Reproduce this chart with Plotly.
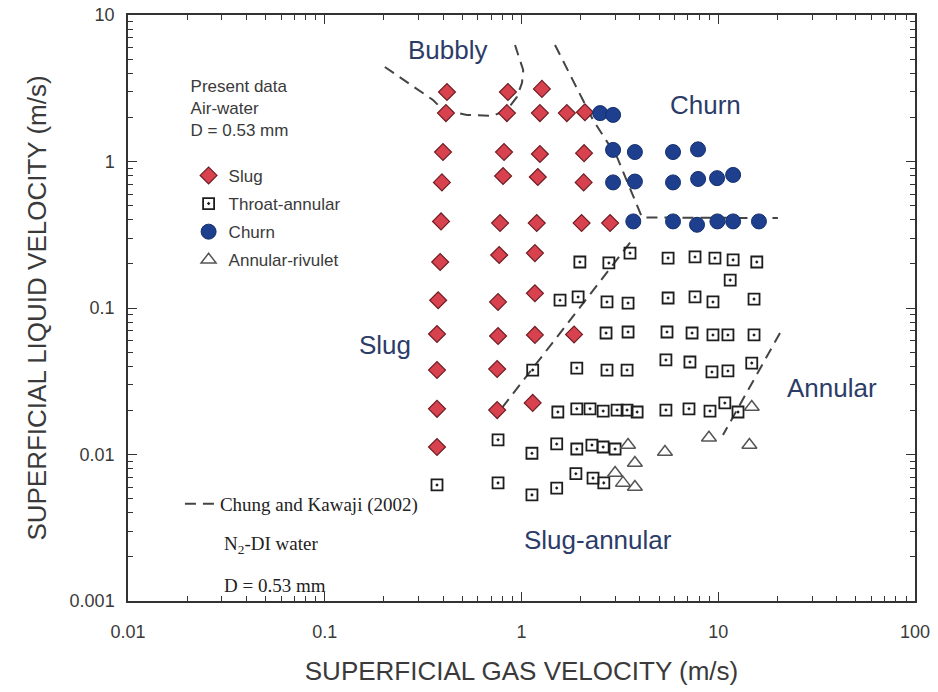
import math
import plotly.graph_objects as go

# ---------------- data ----------------
slug_x = [0.418, 0.413, 0.399, 0.394, 0.390, 0.386, 0.377, 0.372, 0.372, 0.372, 0.372,
          0.853, 0.843, 0.815, 0.806, 0.778, 0.770, 0.760, 0.760, 0.752, 0.752,
          1.27, 1.24, 1.24, 1.21, 1.195, 1.17, 1.17, 1.17, 1.14,
          1.70,
          2.10, 2.08, 2.07, 2.02, 1.85,
          2.82]
slug_y = [2.98, 2.14, 1.16, 0.72, 0.39, 0.206, 0.113, 0.0665, 0.0377, 0.0205, 0.01125,
          2.98, 2.14, 1.16, 0.796, 0.38, 0.230, 0.110, 0.0644, 0.0383, 0.0201,
          3.13, 2.14, 1.125, 0.784, 0.38, 0.237, 0.126, 0.0655, 0.0225,
          2.14,
          2.17, 1.14, 0.72, 0.38, 0.066,
          0.38]

throat_x = [1.98, 2.78, 3.56, 5.56, 7.62, 9.62, 11.9, 15.7, 11.5,
            1.57, 1.94, 2.72, 3.48, 5.56, 7.62, 9.40, 15.2,
            2.69, 3.48, 5.49, 7.36, 9.40, 11.2, 15.2,
            1.14, 1.91, 2.72, 3.44, 5.42, 7.18, 9.29, 11.2, 14.8,
            1.53, 1.91, 2.23, 2.60, 3.06, 3.44, 3.87, 5.42, 7.10, 9.08, 10.8, 12.6,
            0.76, 1.13, 1.51, 1.91, 2.28, 2.60, 2.99,
            0.372, 0.76, 1.13, 1.51, 1.89, 2.31, 2.62]
throat_y = [0.206, 0.203, 0.237, 0.219, 0.223, 0.219, 0.213, 0.206, 0.155,
            0.113, 0.119, 0.110, 0.108, 0.117, 0.119, 0.110, 0.115,
            0.0675, 0.0686, 0.0686, 0.0675, 0.0655, 0.0655, 0.0655,
            0.0377, 0.0389, 0.0377, 0.0377, 0.0442, 0.0428, 0.0366, 0.0372, 0.0421,
            0.0195, 0.0205, 0.0205, 0.0198, 0.0201, 0.0201, 0.0195, 0.0201, 0.0205, 0.0198, 0.0225, 0.0195,
            0.0126, 0.0102, 0.0118, 0.0109, 0.0116, 0.01125, 0.0109,
            0.0062, 0.0064, 0.0053, 0.0059, 0.0074, 0.0069, 0.0064]

churn_x = [2.51, 2.92, 2.92, 3.77, 5.89, 7.89,
           2.92, 3.77, 5.89, 7.90, 9.86, 11.9,
           3.70, 5.89, 7.80, 9.90, 11.9, 16.1]
churn_y = [2.14, 2.08, 1.20, 1.16, 1.16, 1.21,
           0.72, 0.73, 0.72, 0.76, 0.77, 0.81,
           0.39, 0.39, 0.37, 0.39, 0.39, 0.39]

rivulet_x = [3.48, 3.77, 2.99, 3.28, 3.77, 5.36, 8.97, 14.8, 14.4]
rivulet_y = [0.0116, 0.00875, 0.00748, 0.0064, 0.0060, 0.0104, 0.0130, 0.0211, 0.0116]

# Chung and Kawaji (2002) transition lines (None separates segments)
ck_x = [0.202, 0.355, 0.399, 0.528, 0.716, 0.843, 0.948, 1.006, 1.02, 0.927, None,
        1.48, 2.31, 3.06, 4.10, 20.1, None,
        0.796, 3.65, None,
        20.6, 10.57]
ck_y = [4.42, 2.63, 2.25, 2.08, 2.05, 2.25, 2.76, 3.44, 4.21, 6.24, None,
        6.24, 1.92, 1.07, 0.415, 0.411, None,
        0.0208, 0.291, None,
        0.0675, 0.0136]

region_labels = ["Bubbly", "Churn", "Slug", "Annular", "Slug-annular"]
region_x = [0.423, 8.57, 0.202, 37.8, 2.45]
region_y = [5.77, 2.43, 0.0559, 0.0284, 0.0026]

x_ticks = [0.01, 0.1, 1, 10, 100]
x_ticktext = ["0.01", "0.1", "1", "10", "100"]
y_ticks = [0.001, 0.01, 0.1, 1, 10]
y_ticktext = ["0.001", "0.01", "0.1", "1", "10"]

# ---------------- figure ----------------
SANS = "Liberation Sans, Arial, Helvetica, sans-serif"
SERIF = "Liberation Serif, Times New Roman, serif"
TXT = "#3a3a3a"
REG = "#2c3c68"

fig = go.Figure()

fig.add_trace(go.Scatter(
    x=ck_x, y=ck_y, mode="lines", name="Chung and Kawaji (2002)",
    line=dict(color="#444444", width=2, dash="11px,7px"),
    legend="legend2", connectgaps=False, hoverinfo="skip"))

fig.add_trace(go.Scatter(
    x=slug_x, y=slug_y, mode="markers", name="Slug", legendgroup="a",
    marker=dict(symbol="diamond", size=13, color="#d8414e",
                line=dict(color="#6e1d24", width=1.2))))
fig.add_trace(go.Scatter(
    x=throat_x, y=throat_y, mode="markers", name="Throat-annular", legendgroup="b",
    marker=dict(symbol="square-open-dot", size=11, color="#1e1e1e",
                line=dict(color="#1e1e1e", width=1.8))))
fig.add_trace(go.Scatter(
    x=churn_x, y=churn_y, mode="markers", name="Churn", legendgroup="c",
    marker=dict(symbol="circle", size=15, color="#1d3f8e",
                line=dict(color="#14306c", width=1))))
fig.add_trace(go.Scatter(
    x=rivulet_x, y=rivulet_y, mode="markers", name="Annular-rivulet", legendgroup="d",
    marker=dict(symbol="triangle-up-open", size=13, color="#555555",
                line=dict(color="#555555", width=1.5))))

for lab, xv, yv in zip(region_labels, region_x, region_y):
    fig.add_annotation(x=math.log10(xv), y=math.log10(yv), xref="x", yref="y",
                       text=lab, showarrow=False,
                       font=dict(family=SANS, size=26, color=REG))

fig.add_annotation(x=0.119, y=0.0956, xref="paper", yref="paper", xanchor="left",
                   yanchor="middle", text="N<sub>2</sub>-DI water", showarrow=False,
                   font=dict(family=SERIF, size=19, color="#222222"))
fig.add_annotation(x=0.119, y=0.027, xref="paper", yref="paper", xanchor="left",
                   yanchor="middle", text="D = 0.53 mm", showarrow=False,
                   font=dict(family=SERIF, size=19, color="#222222"))

minor_vals = [m * 10 ** e for e in range(-3, 2) for m in range(2, 10)]

axis_common = dict(
    type="log", showgrid=False, zeroline=False, showline=True, linecolor="#333333",
    linewidth=1.5, mirror="ticks", ticks="inside", ticklen=9, tickwidth=1.2,
    tickcolor="#333333", automargin=False,
    tickfont=dict(family=SANS, size=18, color=TXT),
    minor=dict(tickvals=minor_vals, ticks="inside", ticklen=5, tickwidth=1,
               tickcolor="#333333", showgrid=False),
)

fig.update_xaxes(**axis_common, range=[-2, 2], tickvals=x_ticks, ticktext=x_ticktext,
                 ticklabelstandoff=14,
                 title=dict(text="SUPERFICIAL GAS VELOCITY (m/s)", standoff=20,
                            font=dict(family=SANS, size=26, color=TXT)))
fig.update_yaxes(**axis_common, range=[-3, 1], tickvals=y_ticks, ticktext=y_ticktext,
                 ticklabelstandoff=8,
                 title=dict(text="SUPERFICIAL LIQUID VELOCITY (m/s)", standoff=16,
                            font=dict(family=SANS, size=26, color=TXT)))

fig.update_layout(
    width=938, height=692,
    margin=dict(l=128, r=23, t=15, b=91, autoexpand=False),
    paper_bgcolor="white", plot_bgcolor="white",
    showlegend=True,
    legend=dict(x=0.077, y=0.907, xanchor="left", yanchor="top",
                bgcolor="rgba(0,0,0,0)", tracegroupgap=3,
                title=dict(text="Present data<br>Air-water<br>D = 0.53 mm<br> ",
                           font=dict(family=SANS, size=17, color=TXT)),
                font=dict(family=SANS, size=17, color=TXT)),
    legend2=dict(x=0.066, y=0.1655, xanchor="left", yanchor="middle",
                 bgcolor="rgba(0,0,0,0)",
                 font=dict(family=SERIF, size=19, color="#222222")),
)

fig.write_html("out.html")
